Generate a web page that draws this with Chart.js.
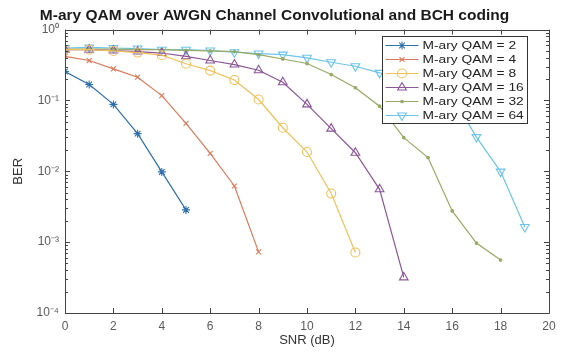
<!DOCTYPE html>
<html><head><meta charset="utf-8">
<script src="https://cdn.jsdelivr.net/npm/chart.js@4/dist/chart.umd.min.js"></script>
<style>html,body{margin:0;padding:0;background:#fff}#wrap{width:562px;height:352px}</style>
</head><body><div id="wrap"><canvas id="c" width="562" height="352"></canvas></div>
<script>
// ---- data ----
const snr = [0,1,2,3,4,5,6,7,8,9,10,11,12,13,14,15,16,17,18,19];
const qam2  = [0.256, 0.168, 0.088, 0.034, 0.0098, 0.00285];
const qam4  = [0.42, 0.366, 0.279, 0.213, 0.117, 0.0474, 0.0179, 0.0062, 0.00073];
const qam8  = [0.52, 0.52, 0.50, 0.474, 0.435, 0.33, 0.264, 0.194, 0.103, 0.0412, 0.0187, 0.00485, 0.000716];
const qam16 = [0.52, 0.52, 0.506, 0.49, 0.467, 0.42, 0.366, 0.321, 0.267, 0.181, 0.088, 0.040, 0.0183, 0.00557, 0.000318];
const qam32 = [0.53, 0.53, 0.53, 0.52, 0.52, 0.51, 0.50, 0.49, 0.444, 0.385, 0.332, 0.232, 0.151, 0.083, 0.0298, 0.0156, 0.00276, 0.00097, 0.00056];
const qam64 = [0.55, 0.56, 0.55, 0.54, 0.52, 0.52, 0.506, 0.48, 0.459, 0.444, 0.40, 0.346, 0.304, 0.245, 0.21, 0.17, 0.115, 0.0304, 0.0099, 0.00164];
const seriesNames = ['M-ary QAM = 2','M-ary QAM = 4','M-ary QAM = 8','M-ary QAM = 16','M-ary QAM = 32','M-ary QAM = 64'];
const xTickValues = [0,2,4,6,8,10,12,14,16,18,20];
const yTickValues = [1e-4, 1e-3, 1e-2, 1e-1, 1];
const yTickLabels = ['10\u207B\u2074','10\u207B\u00B3','10\u207B\u00B2','10\u207B\u00B9','10\u2070'];
const titleText = 'M-ary QAM over AWGN Channel Convolutional and BCH coding';
const xTitle = 'SNR (dB)';
const yTitle = 'BER';

// ---- styles ----
const FONT = "'Liberation Sans', Arial, sans-serif";
const colors = ['#2f71ad', '#db7a5a', '#f0c05a', '#8c5699', '#97aa64', '#6cc4ea'];
const styles = [
  {pointStyle:'star', radius:4, rotation:0, fill:false},
  {pointStyle:'crossRot', radius:3.5, rotation:0, fill:false},
  {pointStyle:'circle', radius:4.5, rotation:0, fill:false},
  {pointStyle:'triangle', radius:5, rotation:0, fill:false},
  {pointStyle:'circle', radius:1.3, rotation:0, fill:true},
  {pointStyle:'triangle', radius:5, rotation:180, fill:false}
];
const allSeries = [qam2, qam4, qam8, qam16, qam32, qam64];

const datasets = allSeries.map((vals, k) => ({
  label: seriesNames[k],
  data: vals.map((v, i) => ({x: snr[i], y: v})),
  borderColor: colors[k],
  backgroundColor: styles[k].fill ? colors[k] : 'rgba(0,0,0,0)',
  pointBackgroundColor: styles[k].fill ? colors[k] : 'rgba(0,0,0,0)',
  pointBorderColor: colors[k],
  borderWidth: 1.2,
  pointBorderWidth: 1.1,
  pointStyle: styles[k].pointStyle,
  pointRadius: styles[k].radius,
  pointRotation: styles[k].rotation,
  tension: 0,
  fill: false
}));

function drawMarker(ctx, st, color, x, y) {
  ctx.save();
  ctx.strokeStyle = color;
  ctx.fillStyle = st.fill ? color : 'rgba(0,0,0,0)';
  ctx.lineWidth = 1.1;
  if (Chart.helpers && Chart.helpers.drawPoint) {
    Chart.helpers.drawPoint(ctx, {pointStyle: st.pointStyle, radius: st.radius, rotation: st.rotation, borderWidth: 1.1}, x, y);
  } else {
    ctx.beginPath(); ctx.arc(x, y, st.radius, 0, Math.PI*2); ctx.stroke();
  }
  ctx.restore();
}

const matlabAxes = {
  id: 'matlabAxes',
  afterDatasetsDraw(chart) {
    const {ctx, chartArea: a, scales: {x, y}} = chart;
    ctx.save();
    ctx.strokeStyle = '#444';
    ctx.lineWidth = 1;
    ctx.beginPath();
    ctx.rect(Math.round(a.left)+0.5, Math.round(a.top)+0.5, Math.round(a.right-a.left), Math.round(a.bottom-a.top));
    ctx.stroke();
    ctx.beginPath();
    xTickValues.forEach(v => {
      const px = Math.round(x.getPixelForValue(v)) + 0.5;
      ctx.moveTo(px, a.bottom); ctx.lineTo(px, a.bottom - 5);
      ctx.moveTo(px, a.top); ctx.lineTo(px, a.top + 5);
    });
    yTickValues.forEach((v, i) => {
      const py = Math.round(y.getPixelForValue(v)) + 0.5;
      ctx.moveTo(a.left, py); ctx.lineTo(a.left + 5, py);
      ctx.moveTo(a.right, py); ctx.lineTo(a.right - 5, py);
      if (i < yTickValues.length - 1) {
        for (let m = 2; m <= 9; m++) {
          const pm = Math.round(y.getPixelForValue(v * m)) + 0.5;
          ctx.moveTo(a.left, pm); ctx.lineTo(a.left + 3, pm);
          ctx.moveTo(a.right, pm); ctx.lineTo(a.right - 3, pm);
        }
      }
    });
    ctx.stroke();

    // legend box
    const bw = 145, bh = 87;
    const bx = Math.round(a.right - 22 - bw) + 0.5, by = Math.round(a.top + 6) + 0.5;
    ctx.fillStyle = '#fff';
    ctx.fillRect(bx, by, bw, bh);
    ctx.strokeStyle = '#333';
    ctx.strokeRect(bx, by, bw, bh);
    ctx.font = '11px ' + FONT;
    ctx.textBaseline = 'middle';
    ctx.textAlign = 'left';
    seriesNames.forEach((name, k) => {
      const ry = by + 9 + 14 * k;
      ctx.strokeStyle = colors[k];
      ctx.lineWidth = 1.2;
      ctx.beginPath(); ctx.moveTo(bx + 3, ry); ctx.lineTo(bx + 36, ry); ctx.stroke();
      drawMarker(ctx, styles[k], colors[k], bx + 19.5, ry);
      ctx.fillStyle = '#222';
      ctx.save();
      ctx.translate(bx + 40, ry);
      ctx.scale(1.25, 1);
      ctx.fillText(name, 0, 0.5);
      ctx.restore();
    });
    ctx.restore();
  }
};

new Chart(document.getElementById('c'), {
  type: 'line',
  data: {datasets},
  plugins: [matlabAxes],
  options: {
    responsive: false,
    animation: false,
    devicePixelRatio: 1,
    layout: {padding: {top: 3, right: 13, left: 0, bottom: 0}},
    plugins: {
      legend: {display: false},
      tooltip: {enabled: false},
      title: {
        display: true, text: titleText, color: '#1a1a1a',
        font: {family: FONT, size: 15.5, weight: 'bold'},
        padding: {top: 3, bottom: 5}
      }
    },
    scales: {
      x: {
        type: 'linear', min: 0, max: 20,
        afterBuildTicks: s => { s.ticks = xTickValues.map(v => ({value: v})); },
        afterFit: s => { s.height = 39; },
        ticks: {autoSkip: false, maxRotation: 0, color: '#5a5a5a', padding: 6, font: {family: FONT, size: 12}},
        grid: {display: false, drawTicks: false},
        border: {display: false},
        title: {display: true, text: xTitle, color: '#333', font: {family: FONT, size: 13}, padding: {top: 0, bottom: 4}}
      },
      y: {
        type: 'logarithmic', min: 1e-4, max: 1,
        afterBuildTicks: s => { s.ticks = yTickValues.map(v => ({value: v})); },
        afterFit: s => { s.width = 65; },
        ticks: {
          autoSkip: false, color: '#5a5a5a', padding: 6, font: {family: FONT, size: 12},
          callback: (v, i) => yTickLabels[i]
        },
        grid: {display: false, drawTicks: false},
        border: {display: false},
        title: {display: true, text: yTitle, color: '#333', font: {family: FONT, size: 13}, padding: {top: 11, bottom: 0}}
      }
    }
  }
});
</script>
</body></html>
